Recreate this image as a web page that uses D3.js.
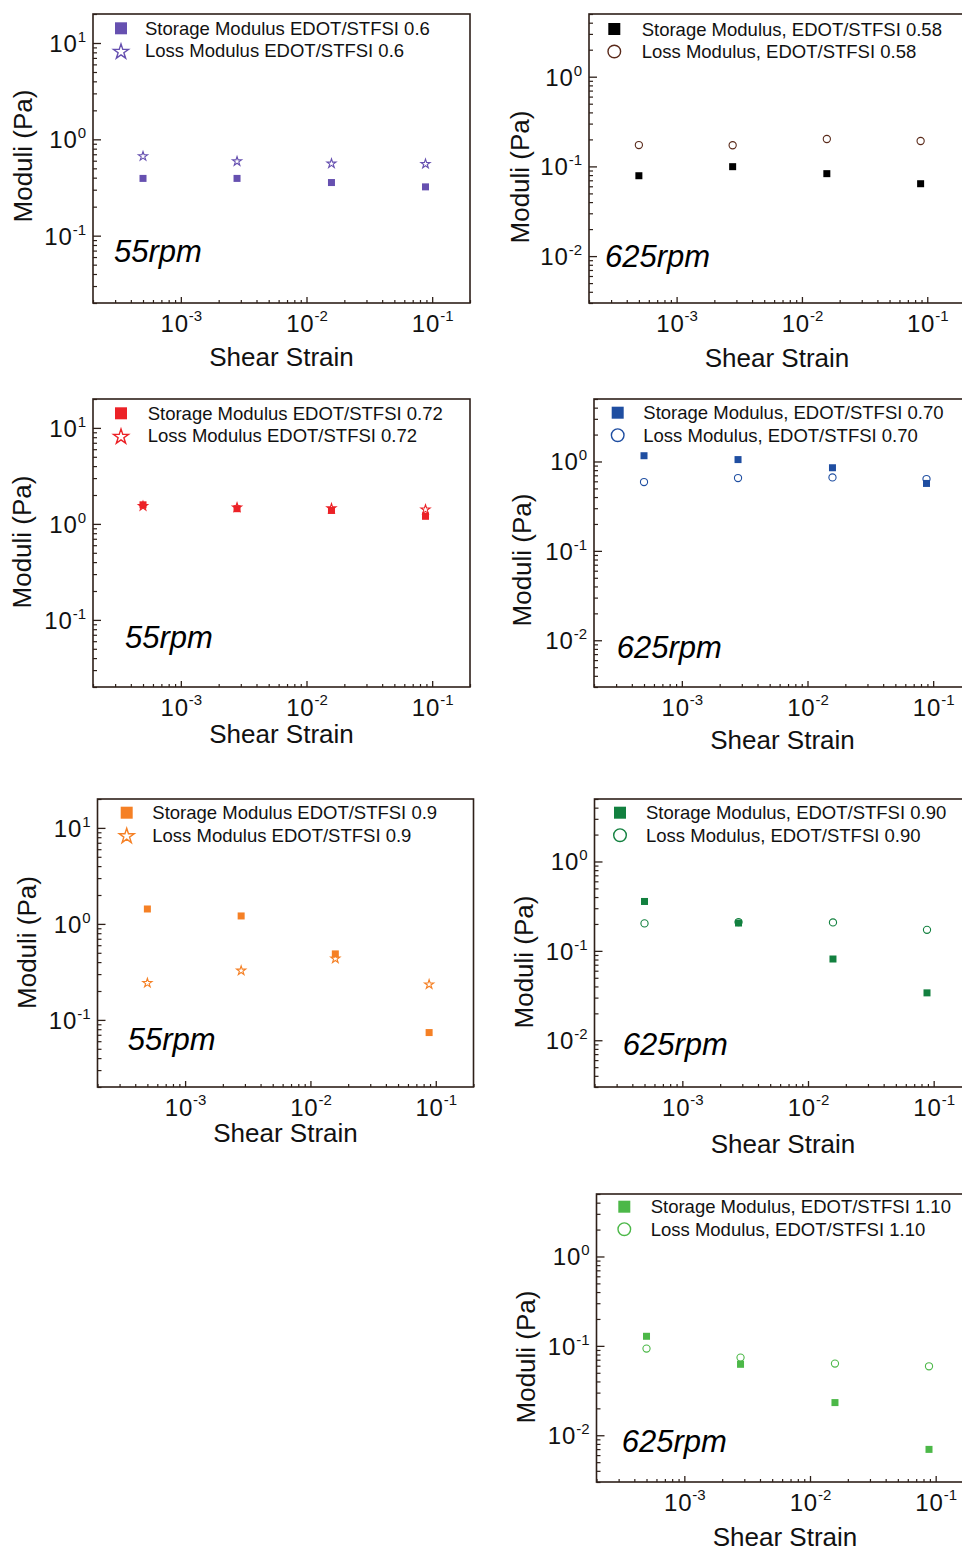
<!DOCTYPE html>
<html><head><meta charset="utf-8">
<script src="https://cdn.jsdelivr.net/npm/d3@7"></script>
<style>body{margin:0;background:#fff}svg{display:block}text{font-family:"Liberation Sans",Arial,sans-serif}</style>
</head><body>
<svg id="c" width="962" height="1551"></svg>
<script>
// ---------- data ----------
const strain = [5e-4, 2.8e-3, 1.58e-2, 8.85e-2];

const storage055_06  = [0.393, 0.393, 0.356, 0.321];
const loss055_06     = [0.675, 0.598, 0.567, 0.562];
const storage625_058 = [0.0787, 0.0993, 0.083, 0.0641];
const loss625_058    = [0.173, 0.172, 0.202, 0.192];
const storage055_072 = [1.58, 1.44, 1.38, 1.20];
const loss055_072    = [1.55, 1.50, 1.47, 1.43];
const storage625_070 = [1.16, 1.05, 0.851, 0.568];
const loss625_070    = [0.589, 0.653, 0.663, 0.636];
const storage055_09  = [1.43, 1.21, 0.487, 0.0738];
const loss055_09     = [0.245, 0.33, 0.44, 0.237];
const storage625_090 = [0.357, 0.205, 0.0811, 0.0339];
const loss625_090    = [0.203, 0.210, 0.208, 0.172];
const storage625_110 = [0.128, 0.0622, 0.0232, 0.00695];
const loss625_110    = [0.0933, 0.074, 0.0634, 0.0591];

const xTickExps     = [-3, -2, -1];
const yTickExps55   = [1, 0, -1];
const yTickExps625  = [0, -1, -2];
const xDomain       = [2e-4, 0.2];
const yDomain55     = [0.02, 20];
const yDomain625    = [0.003, 5];

const xTitle = "Shear Strain";
const yTitle = "Moduli (Pa)";

// ---------- panels ----------
const panels = [
  {storage: storage055_06, loss: loss055_06, color: "#6650b0", lossSym: "star",
   names: ["Storage Modulus EDOT/STFSI 0.6", "Loss Modulus EDOT/STFSI 0.6"], rpm: "55rpm",
   f: {l: 93, t: 14, r: 470, b: 303}, yDom: yDomain55, yExps: yTickExps55,
   yT: [23, 156], xT: 366, rp: [114, 262], lg: [121, 28.3, 145]},
  {storage: storage625_058, loss: loss625_058, color: "#000000", lossSym: "circle", lossColor: "#5a2a1a",
   names: ["Storage Modulus, EDOT/STFSI 0.58", "Loss Modulus, EDOT/STFSI 0.58"], rpm: "625rpm",
   f: {l: 589, t: 14, r: 965, b: 303}, yDom: yDomain625, yExps: yTickExps625,
   yT: [520, 177], xT: 367, rp: [605, 266.7], lg: [614.3, 29, 641.7]},
  {storage: storage055_072, loss: loss055_072, color: "#ec2227", lossSym: "star",
   names: ["Storage Modulus EDOT/STFSI 0.72", "Loss Modulus EDOT/STFSI 0.72"], rpm: "55rpm",
   f: {l: 93, t: 399, r: 470, b: 687}, yDom: yDomain55, yExps: yTickExps55,
   yT: [22, 542], xT: 742.5, rp: [125, 648], lg: [121, 413.3, 147.7]},
  {storage: storage625_070, loss: loss625_070, color: "#1f4ea1", lossSym: "circle",
   names: ["Storage Modulus, EDOT/STFSI 0.70", "Loss Modulus, EDOT/STFSI 0.70"], rpm: "625rpm",
   f: {l: 594, t: 399, r: 971, b: 687}, yDom: yDomain625, yExps: yTickExps625,
   yT: [522, 560], xT: 749, rp: [616.7, 658.3], lg: [617.7, 412.7, 643.3]},
  {storage: storage055_09, loss: loss055_09, color: "#f58025", lossSym: "star",
   names: ["Storage Modulus EDOT/STFSI 0.9", "Loss Modulus EDOT/STFSI 0.9"], rpm: "55rpm",
   f: {l: 97.5, t: 799, r: 473.5, b: 1087}, yDom: yDomain55, yExps: yTickExps55,
   yT: [27, 942.5], xT: 1142, rp: [127.7, 1050], lg: [126.7, 812.7, 152.3]},
  {storage: storage625_090, loss: loss625_090, color: "#12803f", lossSym: "circle",
   names: ["Storage Modulus, EDOT/STFSI 0.90", "Loss Modulus, EDOT/STFSI 0.90"], rpm: "625rpm",
   f: {l: 594.5, t: 799, r: 971.5, b: 1087}, yDom: yDomain625, yExps: yTickExps625,
   yT: [523.5, 962], xT: 1152.5, rp: [622.7, 1055], lg: [620, 812.7, 646]},
  {storage: storage625_110, loss: loss625_110, color: "#4cb848", lossSym: "circle",
   names: ["Storage Modulus, EDOT/STFSI 1.10", "Loss Modulus, EDOT/STFSI 1.10"], rpm: "625rpm",
   f: {l: 596.5, t: 1194, r: 973.5, b: 1482}, yDom: yDomain625, yExps: yTickExps625,
   yT: [525.5, 1357], xT: 1546, rp: [621.7, 1451.7], lg: [624.3, 1206.7, 650.7]}
];

const svg = d3.select("#c");
const frameColor = "#2e2019";
const textColor = "#111";

function minorTicks(dom) {
  const out = [];
  const lo = Math.floor(Math.log10(dom[0])), hi = Math.ceil(Math.log10(dom[1]));
  for (let e = lo; e <= hi; e++) for (let m = 2; m <= 9; m++) {
    const v = m * Math.pow(10, e);
    if (v >= dom[0] * 0.999 && v <= dom[1] * 1.001) out.push(v);
  }
  return out;
}

function expLabel(sel, exp, yShift) {
  sel.text(null);
  sel.append("tspan").text("10").attr("letter-spacing", "0.8px");
  sel.append("tspan").text(String(exp)).attr("font-size", 15).attr("dy", yShift);
}

function drawPanel(p) {
  const g = svg.append("g");
  const x = d3.scaleLog().domain(xDomain).range([p.f.l, p.f.r]);
  const y = d3.scaleLog().domain(p.yDom).range([p.f.b, p.f.t]);

  // minor ticks
  g.append("g").attr("transform", `translate(0,${p.f.b})`)
    .call(d3.axisBottom(x).tickValues(minorTicks(xDomain)).tickSize(-3).tickFormat(""))
    .call(a => a.select(".domain").remove())
    .call(a => a.selectAll("line").attr("stroke", frameColor).attr("stroke-width", 1.2));
  g.append("g").attr("transform", `translate(${p.f.l},0)`)
    .call(d3.axisLeft(y).tickValues(minorTicks(p.yDom)).tickSize(-4).tickFormat(""))
    .call(a => a.select(".domain").remove())
    .call(a => a.selectAll("line").attr("stroke", frameColor).attr("stroke-width", 1.2));

  // major ticks with labels
  const xMaj = xTickExps.map(e => Math.pow(10, e));
  const yMaj = p.yExps.map(e => Math.pow(10, e));
  g.append("g").attr("transform", `translate(0,${p.f.b})`)
    .call(d3.axisBottom(x).tickValues(xMaj).tickSize(-6).tickFormat(""))
    .call(a => a.select(".domain").remove())
    .call(a => a.selectAll("line").attr("stroke", frameColor).attr("stroke-width", 1.3))
    .call(a => a.selectAll(".tick text")
      .attr("y", 29).attr("dy", null).attr("font-size", 24).attr("fill", textColor)
      .attr("font-family", '"Liberation Sans",Arial,sans-serif').attr("text-anchor", "middle")
      .each(function(d) { expLabel(d3.select(this), Math.round(Math.log10(d)), -11); }));
  g.append("g").attr("transform", `translate(${p.f.l},0)`)
    .call(d3.axisLeft(y).tickValues(yMaj).tickSize(-8).tickFormat(""))
    .call(a => a.select(".domain").remove())
    .call(a => a.selectAll("line").attr("stroke", frameColor).attr("stroke-width", 1.3))
    .call(a => a.selectAll(".tick text")
      .attr("x", -7).attr("y", 8.5).attr("dy", null).attr("font-size", 24).attr("fill", textColor)
      .attr("font-family", '"Liberation Sans",Arial,sans-serif').attr("text-anchor", "end")
      .each(function(d) { expLabel(d3.select(this), Math.round(Math.log10(d)), -10); }));

  // frame
  g.append("rect").attr("x", p.f.l).attr("y", p.f.t)
    .attr("width", p.f.r - p.f.l).attr("height", p.f.b - p.f.t)
    .attr("fill", "none").attr("stroke", frameColor).attr("stroke-width", 1.6);

  const lossColor = p.lossColor || p.color;
  const pts = strain.map((s, i) => ({s, st: p.storage[i], lo: p.loss[i]}));

  // storage squares
  g.append("g").selectAll("rect").data(pts).join("rect")
    .attr("x", d => x(d.s) - 3.5).attr("y", d => y(d.st) - 3.5)
    .attr("width", 7).attr("height", 7).attr("fill", p.color);

  // loss markers
  if (p.lossSym === "star") {
    const star = d3.symbol().type(d3.symbolStar).size(26);
    g.append("g").selectAll("path").data(pts).join("path")
      .attr("d", star).attr("transform", d => `translate(${x(d.s)},${y(d.lo) + 0.5})`)
      .attr("fill", "none").attr("stroke", lossColor).attr("stroke-width", 1.1);
  } else {
    g.append("g").selectAll("circle").data(pts).join("circle")
      .attr("cx", d => x(d.s)).attr("cy", d => y(d.lo)).attr("r", 3.6)
      .attr("fill", "none").attr("stroke", lossColor).attr("stroke-width", 1.1);
  }

  // legend
  const [mx, my, tx] = p.lg;
  const gap = 22.5;
  g.append("rect").attr("x", mx - 6).attr("y", my - 6).attr("width", 12).attr("height", 12).attr("fill", p.color);
  if (p.lossSym === "star") {
    g.append("path").attr("d", d3.symbol().type(d3.symbolStar).size(70)())
      .attr("transform", `translate(${mx},${my + gap + 1})`)
      .attr("fill", "none").attr("stroke", lossColor).attr("stroke-width", 1.4);
  } else {
    g.append("circle").attr("cx", mx).attr("cy", my + gap).attr("r", 6.3)
      .attr("fill", "none").attr("stroke", lossColor).attr("stroke-width", 1.4);
  }
  p.names.forEach((n, i) => {
    g.append("text").attr("x", tx).attr("y", my + i * gap + 6.6)
      .attr("font-size", 18.5).attr("fill", textColor).text(n);
  });

  // rpm label
  g.append("text").attr("x", p.rp[0]).attr("y", p.rp[1])
    .attr("font-size", 31).attr("font-style", "italic").attr("fill", "#000").text(p.rpm);

  // axis titles
  g.append("text").attr("x", (p.f.l + p.f.r) / 2).attr("y", p.xT)
    .attr("text-anchor", "middle").attr("font-size", 26).attr("fill", textColor).text(xTitle);
  g.append("text").attr("transform", `translate(${p.yT[0] + 9.3},${p.yT[1]}) rotate(-90)`)
    .attr("text-anchor", "middle").attr("font-size", 26).attr("fill", textColor).text(yTitle);
}

panels.forEach(drawPanel);
</script>
</body></html>
